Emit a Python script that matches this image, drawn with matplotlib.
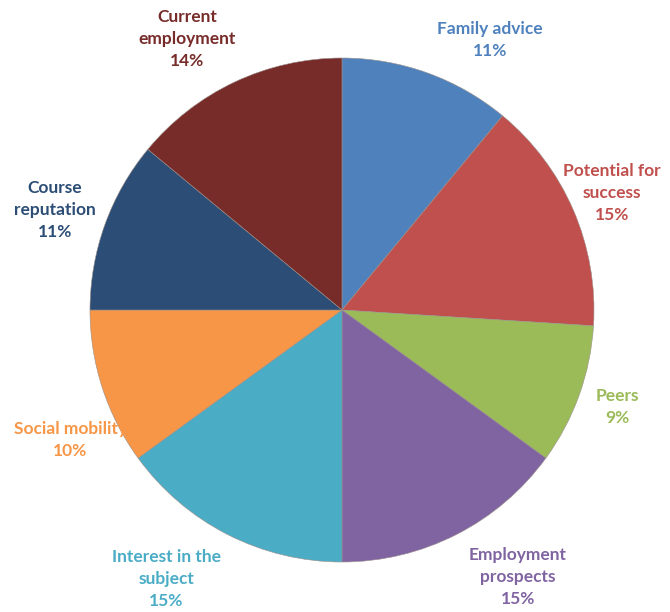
import matplotlib
matplotlib.use("Agg")
import matplotlib.pyplot as plt

# Factors influencing choice, share of responses (%)
categories = ["Family advice", "Potential for\nsuccess", "Peers", "Employment\nprospects",
              "Interest in the\nsubject", "Social mobility", "Course\nreputation", "Current\nemployment"]
shares = [11, 15, 9, 15, 15, 10, 11, 14]
colors = ["#4F81BD", "#C0504D", "#9BBB59", "#8064A2",
          "#4BACC6", "#F79646", "#2C4D75", "#772C2A"]
label_xy = [(0.587, 1.071), (1.071, 0.464), (1.091, -0.385), (0.698, -1.060),
            (-0.698, -1.067), (-1.079, -0.516), (-1.139, 0.397), (-0.615, 1.075)]

W, H = 670, 612
cx, cy, r = 342, 310, 252
fig = plt.figure(figsize=(W / 100, H / 100), dpi=100)
ax = fig.add_axes([(cx - r) / W, (H - cy - r) / H, 2 * r / W, 2 * r / H])
ax.pie(shares, colors=colors, startangle=90, counterclock=False, radius=1,
       wedgeprops=dict(edgecolor="#9a8f8a", linewidth=0.4))
ax.set_xlim(-1, 1)
ax.set_ylim(-1, 1)
ax.set_aspect("equal")
ax.set_clip_on(False)
ax.axis("off")

for name, val, col, (x, y) in zip(categories, shares, colors, label_xy):
    ax.text(x, y, f"{name}\n{val}%", color=col, ha="center", va="center",
            fontsize=12.5, fontweight="bold", family=["Lato", "DejaVu Sans"],
            linespacing=1.45, clip_on=False)

fig.savefig("out.png", dpi=100, facecolor="white")
